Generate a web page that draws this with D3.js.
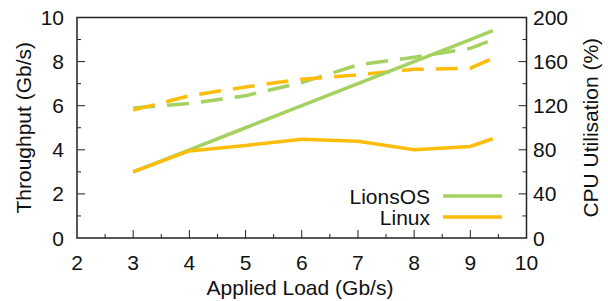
<!DOCTYPE html>
<html>
<head>
    <title>Throughput and CPU utilisation</title>
    <script src="https://d3js.org/d3.v7.min.js"></script>
    <style>
        body { margin: 0; background: #fff; }
        text { font-family: "Liberation Sans", Arial, sans-serif; fill: #111; }
    </style>
</head>
<body>
    <svg width="608" height="301"></svg>

    <script>
    // applied load (Gb/s)
    const load = [3, 4, 5, 6, 7, 8, 9, 9.4];

    // throughput (Gb/s), solid lines
    const lionsTput = [3.0, 4.0, 5.0, 6.0, 7.0, 8.0, 9.0, 9.4];
    const linuxTput = [3.0, 3.95, 4.2, 4.48, 4.39, 4.0, 4.15, 4.5];

    // CPU utilisation (%), dashed lines
    const lionsCpu = [118, 122, 129, 141, 157, 164, 172, 180];
    const linuxCpu = [116, 129, 137, 144, 148, 153, 154, 163];

    const xTicks = [2, 3, 4, 5, 6, 7, 8, 9, 10];
    const yTicks = [0, 2, 4, 6, 8, 10];
    const y2Ticks = [0, 40, 80, 120, 160, 200];

    const green = "#a5d160", orange = "#fdbd0a";
    const fs = 21;

    const svg = d3.select("svg");
    const mLeft = 77, mRight = 526.5, mTop = 17.5, mBottom = 238;

    const x = d3.scaleLinear().domain([2, 10]).range([mLeft, mRight]);
    const y = d3.scaleLinear().domain([0, 10]).range([mBottom, mTop]);
    const y2 = d3.scaleLinear().domain([0, 200]).range([mBottom, mTop]);

    // ticks (inward), minor and major
    const tickG = svg.append("g").attr("stroke", "#222").attr("stroke-width", 1);
    d3.range(2.5, 10, 0.5).forEach(v => {
        const len = Number.isInteger(v) ? 8 : 4;
        tickG.append("line").attr("x1", x(v)).attr("x2", x(v)).attr("y1", mBottom).attr("y2", mBottom - len);
    });
    d3.range(1, 10, 1).forEach(v => {
        const len = v % 2 === 0 ? 8 : 4;
        tickG.append("line").attr("x1", mLeft).attr("x2", mLeft + len).attr("y1", y(v)).attr("y2", y(v));
    });
    d3.range(20, 200, 20).forEach(v => {
        const len = v % 40 === 0 ? 8 : 4;
        tickG.append("line").attr("x1", mRight).attr("x2", mRight - len).attr("y1", y2(v)).attr("y2", y2(v));
    });

    // tick labels
    svg.append("g").selectAll("text").data(xTicks).enter().append("text")
        .attr("x", d => x(d)).attr("y", 270)
        .attr("text-anchor", "middle").attr("font-size", fs)
        .text(d => d);
    svg.append("g").selectAll("text").data(yTicks).enter().append("text")
        .attr("x", 64).attr("y", d => y(d) + 7.5)
        .attr("text-anchor", "end").attr("font-size", fs)
        .text(d => d);
    svg.append("g").selectAll("text").data(y2Ticks).enter().append("text")
        .attr("x", 533).attr("y", d => y2(d) + 7.5)
        .attr("text-anchor", "start").attr("font-size", fs)
        .text(d => d);

    // axis titles
    svg.append("text").attr("x", 300).attr("y", 295)
        .attr("text-anchor", "middle").attr("font-size", fs)
        .text("Applied Load (Gb/s)");
    svg.append("text").attr("transform", `translate(31,${(mTop + mBottom) / 2}) rotate(-90)`)
        .attr("text-anchor", "middle").attr("font-size", fs)
        .text("Throughput (Gb/s)");
    svg.append("text").attr("transform", `translate(598,${(mTop + mBottom) / 2}) rotate(-90)`)
        .attr("text-anchor", "middle").attr("font-size", fs)
        .text("CPU Utilisation (%)");

    // lines
    const tputLine = d3.line().x((d, i) => x(load[i])).y(d => y(d));
    const cpuLine = d3.line().x((d, i) => x(load[i])).y(d => y2(d));

    const series = [
        { data: lionsCpu, gen: cpuLine, color: green, dash: "22,12" },
        { data: linuxCpu, gen: cpuLine, color: orange, dash: "22,12" },
        { data: lionsTput, gen: tputLine, color: green, dash: null },
        { data: linuxTput, gen: tputLine, color: orange, dash: null }
    ];
    series.forEach(s => {
        svg.append("path")
            .attr("d", s.gen(s.data))
            .attr("fill", "none")
            .attr("stroke", s.color)
            .attr("stroke-width", 3.5)
            .attr("stroke-dasharray", s.dash);
    });

    // frame
    svg.append("rect")
        .attr("x", mLeft).attr("y", mTop)
        .attr("width", mRight - mLeft).attr("height", mBottom - mTop)
        .attr("fill", "none").attr("stroke", "#222").attr("stroke-width", 1.5);

    // legend
    const legend = [
        { name: "LionsOS", color: green, y: 196 },
        { name: "Linux", color: orange, y: 217 }
    ];
    legend.forEach(l => {
        svg.append("text").attr("x", 430).attr("y", l.y + 7.5)
            .attr("text-anchor", "end").attr("font-size", fs)
            .text(l.name);
        svg.append("line").attr("x1", 443).attr("x2", 502)
            .attr("y1", l.y).attr("y2", l.y)
            .attr("stroke", l.color).attr("stroke-width", 3.5);
    });
    </script>
</body>
</html>
